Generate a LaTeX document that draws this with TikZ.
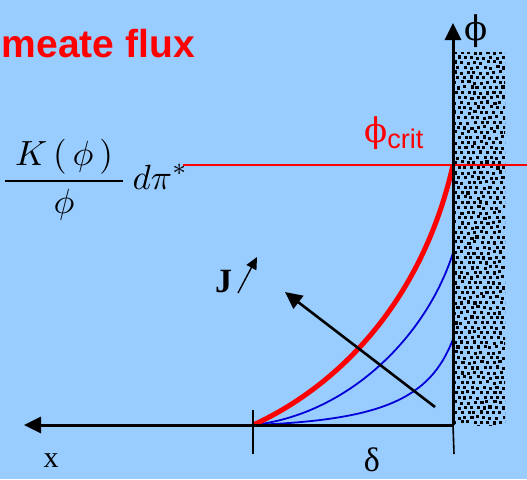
\documentclass[tikz,border=0pt]{standalone}
\usepackage{graphicx}
\usepackage{fontspec}
\setmainfont{Liberation Serif}
\newfontfamily\headfont{Liberation Sans}
\newfontfamily\grkfont{DejaVu Serif}
\usetikzlibrary{arrows.meta,calc,positioning}
\definecolor{bgcolor}{RGB}{153,204,255}
\definecolor{ccolor}{RGB}{255,0,0}
\definecolor{bcolor}{RGB}{0,0,215}

\begin{document}
\begin{tikzpicture}[x=1pt,y=-1pt,>={Triangle[length=17pt,width=16pt]},
    axis/.style={line width=3pt,->},
    tick/.style={line width=1.6pt},
    profile/.style={bcolor,line width=1.8pt},
    lbl/.style={inner sep=0pt}]
  \fill[bgcolor] (0,0) rectangle (527,479);
  \useasboundingbox (0,0) rectangle (527,479);
  % key points
  \coordinate (O) at (453,425);
  \coordinate (d0) at (253,425);
  \coordinate (crit) at (453,165);
  \coordinate (b1) at (453,253);
  \coordinate (b2) at (453,339);
  \coordinate (xtip) at (24,425);
  \coordinate (ytip) at (453,23);
  % porous wall
  \pgfmathsetseed{7}
  \begin{scope}
    \clip (455,52) rectangle (505,425);
    \foreach \r in {0,...,75} {
      \foreach \c in {0,...,8} {
        \pgfmathsetmacro{\px}{454+\c*6.4+mod(\r,2)*3.2+rand*1.1}
        \pgfmathsetmacro{\py}{51+\r*5+rand*0.8}
        \fill (\px,\py) rectangle ++(3.1,3.1);
      }
    }
  \end{scope}
  % critical level
  \coordinate (critL) at (183,165);
  \coordinate (critR) at (527,165);
  \draw[ccolor,line width=1.3pt] (critL) -- (critR);
  % concentration profiles
  \draw[profile] (d0) .. controls (380,420) and (430,400) .. (b2);
  \draw[profile] (d0) .. controls (345,415) and (425,340) .. (b1);
  \draw[ccolor,line width=5pt] (d0) .. controls (330,390) and (420,310) .. (crit);
  % axes and ticks
  \draw[axis] (O) -- (xtip);
  \draw[axis] (O) -- (ytip);
  \draw[tick] (253,410) -- (253,454);
  \draw[tick] (O) -- (454,454);
  % flux arrow
  \coordinate (jtail) at (435,407);
  \coordinate (jhead) at (285,292);
  \draw[->,line width=2.6pt] (jtail) -- (jhead);
  % labels
  \node[lbl,anchor=base east,text=ccolor,font=\headfont\bfseries\fontsize{39}{44}\selectfont]
    (title) at (195,57) {meate flux};
  \node[lbl,anchor=base] (phi) at (476,40) {\grkfont\fontsize{34}{40}\selectfont ϕ};
  \node[lbl,anchor=base west,text=ccolor] (phicrit) at (364,142)
    {\grkfont\fontsize{34}{40}\selectfont ϕ\raisebox{-6pt}{\headfont\fontsize{27}{30}\selectfont crit}};
  \node[lbl,anchor=base] (xlbl) at (51,467) {\fontsize{30}{34}\selectfont x};
  \node[lbl,anchor=base] (delta) at (372,471) {\fontsize{34}{40}\selectfont δ};
  \node[lbl,anchor=base west] (jlbl) at (215,292) {\fontsize{34}{38}\selectfont\bfseries J};
  \coordinate (jsA) at (238,293);
  \coordinate (jsB) at (257,257);
  \draw[-{Triangle[length=12pt,width=11pt]},line width=1.4pt] (jsA) -- (jsB);
  \node[lbl,anchor=west] (flux) at (1,180)
    {\scalebox{3.5}{$\displaystyle\frac{\;K\,(\,\phi\,)\;}{\phi}\,d\pi^{*}$}};
\end{tikzpicture}
\end{document}
